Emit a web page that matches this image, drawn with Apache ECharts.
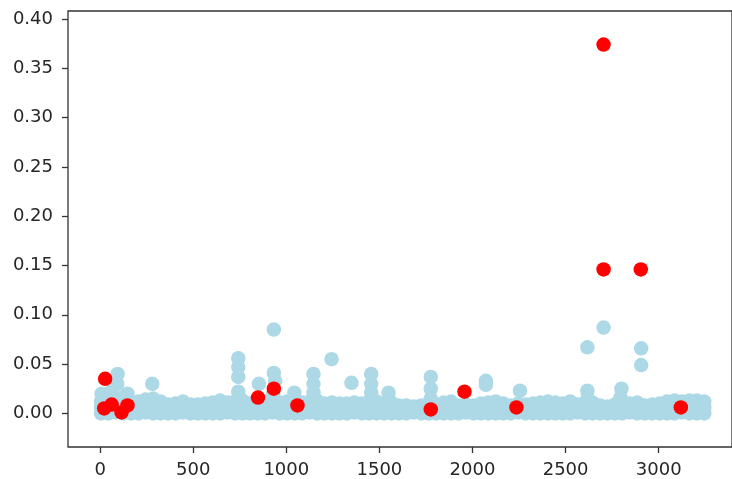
<!DOCTYPE html>
<html>
<head>
<meta charset="utf-8">
<script src="https://cdn.jsdelivr.net/npm/echarts@6/dist/echarts.min.js"></script>
<style>
  html, body { margin: 0; padding: 0; background: #ffffff; }
  #chart { width: 732px; height: 479px; }
</style>
</head>
<body>
<div id="chart"></div>
<script>
// Dense band of ordinary values (x positions with low / mid / upper values)
const bandX = [5,45,85,125,165,205,245,285,325,365,405,445,485,525,565,605,645,685,725,765,
  805,845,885,925,965,1005,1045,1085,1125,1165,1205,1245,1285,1325,1365,1405,1445,1485,1525,1565,
  1605,1645,1685,1725,1765,1805,1845,1885,1925,1965,2005,2045,2085,2125,2165,2205,2245,2285,2325,2365,
  2405,2445,2485,2525,2565,2605,2645,2685,2725,2765,2805,2845,2885,2925,2965,3005,3045,3085,3125,3165,
  3205,3245];
const bandLow = [0,0,0.001,0,0,0,0.001,0,0,0,0,0.001,0,0,0,0,0,0.001,0,0,
  0,0,0,0.001,0,0,0,0,0.001,0,0,0,0,0,0.001,0,0,0,0,0,
  0,0,0.001,0,0,0,0,0,0,0.001,0,0,0,0,0,0,0.001,0,0,0,
  0,0,0,0,0.001,0,0,0,0,0,0,0.001,0,0,0,0,0,0,0.001,0,
  0,0];
const bandMid = [0.006,0.006,0.007,0.006,0.005,0.006,0.007,0.007,0.006,0.005,0.005,0.006,0.005,0.005,0.005,0.006,0.006,0.005,0.006,0.006,
  0.005,0.005,0.006,0.006,0.005,0.006,0.006,0.005,0.006,0.006,0.005,0.005,0.005,0.005,0.005,0.005,0.006,0.006,0.005,0.005,
  0.004,0.004,0.004,0.004,0.005,0.004,0.005,0.006,0.004,0.005,0.004,0.005,0.005,0.006,0.005,0.004,0.005,0.005,0.005,0.005,
  0.006,0.005,0.005,0.006,0.005,0.005,0.005,0.004,0.004,0.005,0.006,0.005,0.005,0.004,0.005,0.005,0.006,0.006,0.006,0.006,
  0.006,0.006];
const bandTop = [0.012,0.014,0.013,0.012,0.011,0.012,0.014,0.015,0.012,0.009,0.010,0.012,0.009,0.009,0.010,0.011,0.013,0.011,0.012,0.013,
  0.010,0.011,0.012,0.013,0.011,0.012,0.013,0.011,0.012,0.013,0.010,0.011,0.010,0.010,0.011,0.010,0.012,0.012,0.010,0.011,
  0.008,0.008,0.007,0.008,0.010,0.008,0.011,0.012,0.008,0.009,0.008,0.010,0.011,0.012,0.010,0.008,0.010,0.009,0.010,0.011,
  0.012,0.011,0.010,0.012,0.009,0.010,0.011,0.008,0.007,0.009,0.012,0.010,0.011,0.008,0.009,0.010,0.012,0.013,0.012,0.013,
  0.013,0.012];

// Higher ordinary values standing above the band
const spikeX = [8,60,92,94,120,147,280,742,742,742,742,853,933,933,940,930,1043,1146,1146,1146,
  1243,1350,1456,1456,1456,1549,1776,1776,1776,2072,2072,2255,2617,2617,2617,2704,2800,2795,2906,2906];
const spikeY = [0.020,0.022,0.030,0.040,0.016,0.020,0.030,0.056,0.047,0.037,0.022,0.030,0.085,0.041,0.033,0.020,0.021,0.040,0.030,0.021,
  0.055,0.031,0.040,0.030,0.021,0.021,0.037,0.025,0.015,0.033,0.029,0.023,0.067,0.023,0.015,0.087,0.025,0.016,0.066,0.049];

// Flagged points
const flagX = [27,22,62,115,147,848,933,1060,1776,1957,2236,2704,2704,2904,3119];
const flagY = [0.035,0.005,0.009,0.001,0.008,0.016,0.025,0.008,0.004,0.022,0.006,0.374,0.146,0.146,0.006];

// Axis tick labels
const xTicks = [0,500,1000,1500,2000,2500,3000];
const yTicks = [0,0.05,0.10,0.15,0.20,0.25,0.30,0.35,0.40];

const baseData = [];
bandX.forEach((x, i) => {
  baseData.push([x, bandLow[i]]);
  baseData.push([x, bandMid[i]]);
  baseData.push([x, bandTop[i]]);
});
spikeX.forEach((x, i) => baseData.push([x, spikeY[i]]));
const flagData = flagX.map((x, i) => [x, flagY[i]]);

const axisColor = '#333333';
const textStyle = { color: '#262626', fontFamily: 'DejaVu Sans', fontSize: 18 };

const chart = echarts.init(document.getElementById('chart'), null, { renderer: 'canvas' });
chart.setOption({
  animation: false,
  backgroundColor: '#ffffff',
  grid: {
    left: 68, top: 11, width: 670, height: 437,
    show: true, borderColor: axisColor, borderWidth: 1.3, backgroundColor: 'transparent'
  },
  xAxis: {
    type: 'value',
    position: 'bottom',
    min: -172.5,
    max: 3393.8,
    axisLine: { show: false, onZero: false },
    splitLine: { show: false },
    axisTick: { show: true, length: 6, customValues: xTicks, lineStyle: { color: axisColor, width: 1.3 } },
    axisLabel: { customValues: xTicks, margin: 14, ...textStyle, formatter: v => String(v) }
  },
  yAxis: {
    type: 'value',
    position: 'left',
    min: -0.0341,
    max: 0.4081,
    axisLine: { show: false, onZero: false },
    splitLine: { show: false },
    axisTick: { show: true, length: 6, customValues: yTicks, lineStyle: { color: axisColor, width: 1.3 } },
    axisLabel: { customValues: yTicks, margin: 15, ...textStyle, formatter: v => v.toFixed(2) }
  },
  series: [
    {
      type: 'scatter',
      data: baseData,
      symbol: 'circle',
      symbolSize: 14.5,
      itemStyle: { color: '#add8e6', opacity: 1 },
      emphasis: { disabled: true }
    },
    {
      type: 'scatter',
      data: flagData,
      symbol: 'circle',
      symbolSize: 14.5,
      itemStyle: { color: '#ff0000', opacity: 1 },
      emphasis: { disabled: true }
    }
  ]
});
</script>
</body>
</html>
